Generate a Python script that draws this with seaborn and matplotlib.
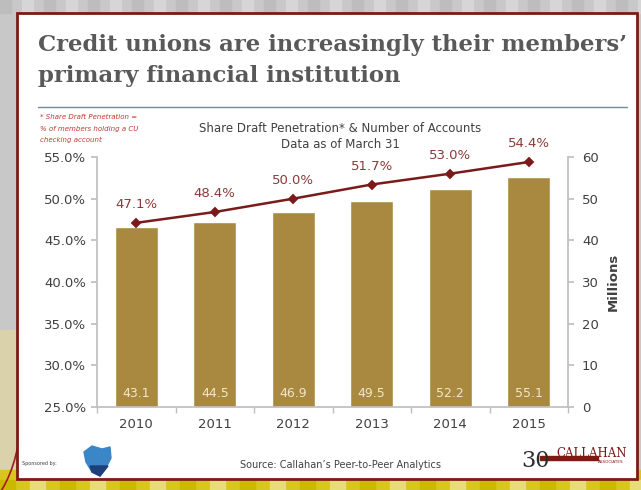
import matplotlib
matplotlib.use("Agg")
import matplotlib.pyplot as plt
from matplotlib.patches import Rectangle, Polygon, Arc
from matplotlib.lines import Line2D
import seaborn as sns
import pandas as pd
import numpy as np

# ---- data ----
years = ["2010", "2011", "2012", "2013", "2014", "2015"]
accounts_millions = [43.1, 44.5, 46.9, 49.5, 52.2, 55.1]
penetration_pct = [47.1, 48.4, 50.0, 51.7, 53.0, 54.4]
pct_ticks = [25.0, 30.0, 35.0, 40.0, 45.0, 50.0, 55.0]
million_ticks = [0, 10, 20, 30, 40, 50, 60]

df = pd.DataFrame({"year": years, "accounts": accounts_millions, "pct": penetration_pct})

W, H = 641, 490
sns.set_theme(style="white")
plt.rcParams["font.family"] = ["DejaVu Sans"]

fig = plt.figure(figsize=(W / 100, H / 100), dpi=100)
fig.patch.set_facecolor("#c9c9c9")


def fx(px):
    return px / W


def fy(py):
    return 1 - py / H


# ---- slide backdrop ----
bg = fig.add_axes([0, 0, 1, 1], zorder=-10)
bg.set_xlim(0, W)
bg.set_ylim(H, 0)
bg.axis("off")
bg.add_patch(Rectangle((0, 0), W, H, color="#c8c8c8"))
for i, x0 in enumerate(range(0, W, 22)):
    bg.add_patch(Rectangle((x0, 0), 11, 13, color="#d6d6d6" if i % 2 else "#bdbdbd"))
bg.add_patch(Rectangle((0, 330), 17, 160, color="#d9d2ab"))
bg.add_patch(Rectangle((0, 470), W, 20, color="#d9c520"))
for i, x0 in enumerate(range(0, W, 30)):
    bg.add_patch(Rectangle((x0, 480), 15, 10, color="#e8dc78" if i % 2 else "#cdb800"))
bg.add_patch(Arc((-60, 420), 160, 220, theta1=-10, theta2=80, color="#a11c1c", lw=1.2))
bg.add_patch(Rectangle((17, 13), 620, 466, facecolor="white", edgecolor="#7a1c12", lw=2))
bg.add_line(Line2D([38, 627], [107, 107], color="#6f8c98", lw=1))

# ---- titles and notes ----
fig.text(fx(38), fy(45), "Credit unions are increasingly their members\u2019",
         fontsize=16.4, fontweight="bold", family="DejaVu Serif", color="#595959", va="center")
fig.text(fx(38), fy(76), "primary financial institution",
         fontsize=16.4, fontweight="bold", family="DejaVu Serif", color="#595959", va="center")
fig.text(fx(40), fy(117), "* Share Draft Penetration =", fontsize=5, style="italic", color="#c0392b", va="center")
fig.text(fx(40), fy(129), "% of members holding a CU", fontsize=5, style="italic", color="#c0392b", va="center")
fig.text(fx(40), fy(140), "checking account", fontsize=5, style="italic", color="#c0392b", va="center")
fig.text(fx(340), fy(128), "Share Draft Penetration* & Number of Accounts",
         fontsize=8.5, color="#404040", ha="center", va="center")
fig.text(fx(340), fy(145), "Data as of March 31", fontsize=8.5, color="#404040", ha="center", va="center")

# ---- main chart ----
left, right, top, bottom = 97, 568, 157, 407
ax = fig.add_axes([fx(left), fy(bottom), fx(right - left), (bottom - top) / H])
ax.set_facecolor("none")

sns.barplot(data=df, x="year", y="accounts", color="#a8893f", saturation=1,
            width=0.55, ax=ax, zorder=2)
ax.set_xlabel("")

for i, v in enumerate(accounts_millions):
    ax.annotate(f"{v:.1f}", (i, 0), xytext=(0, 10), textcoords="offset points",
                ha="center", va="center", fontsize=9, color="#f3e6c8", zorder=3)

ax2 = ax.twinx()
sns.pointplot(data=df, x="year", y="pct", color="#7b1a1a", markers="D",
              linewidth=1.8, markersize=4, ax=ax2)
ax2.set_ylim(25, 55)
ax2.set_yticks(pct_ticks)
ax2.set_yticklabels([f"{t:.1f}%" for t in pct_ticks])
ax2.set_ylabel("")
ax2.set_xlabel("")
for i, v in enumerate(penetration_pct):
    ax2.annotate(f"{v:.1f}%", (i, v), xytext=(0, 13), textcoords="offset points",
                 ha="center", va="center", fontsize=9.5, color="#8b3a3a")

# bars' scale (millions) on the right, percentage scale on the left
ax.set_ylim(0, 60)
ax.set_yticks(million_ticks)
ax.yaxis.tick_right()
ax.yaxis.set_label_position("right")
ax.set_ylabel("Millions", fontsize=9.5, fontweight="bold", color="#404040", labelpad=6)
ax2.yaxis.tick_left()
ax2.yaxis.set_label_position("left")

for a in (ax, ax2):
    a.set_xlim(-0.5, len(years) - 0.5)
    for s in a.spines.values():
        s.set_visible(False)

spine_c = "#bfbfbf"
ax2.spines["left"].set_visible(True)
ax2.spines["left"].set_color(spine_c)
ax2.spines["right"].set_visible(True)
ax2.spines["right"].set_color(spine_c)
ax.spines["bottom"].set_visible(True)
ax.spines["bottom"].set_color(spine_c)

ax.set_xticks(range(len(years)))
ax.set_xticklabels(years)
ax.set_xticks(np.arange(-0.5, len(years), 1.0), minor=True)
ax.tick_params(axis="x", which="major", length=0, labelsize=9.5, labelcolor="#404040", pad=8)
ax.tick_params(axis="x", which="minor", length=4, color=spine_c, direction="out", bottom=True)
ax.tick_params(axis="y", which="major", length=4, color=spine_c, direction="out",
               labelsize=9.5, labelcolor="#404040", right=True, left=False,
               labelright=True, labelleft=False, pad=6)
ax2.tick_params(axis="y", which="major", length=4, color=spine_c, direction="out",
                labelsize=9.5, labelcolor="#404040", left=True, right=False,
                labelleft=True, labelright=False, pad=4)
ax2.tick_params(axis="x", bottom=False, labelbottom=False)

# ---- footer ----
fig.text(fx(340), fy(465), "Source: Callahan\u2019s Peer-to-Peer Analytics",
         fontsize=7, color="#404040", ha="center", va="center")
fig.text(fx(22), fy(463), "Sponsored by:", fontsize=3.5, color="#404040", va="center")
bg.add_patch(Polygon([[84, 452], [92, 446], [102, 449], [110, 447], [111, 458],
                      [106, 468], [100, 476], [92, 472], [86, 462]],
                     closed=True, color="#3b86c6"))
bg.add_patch(Polygon([[90, 466], [108, 466], [100, 476], [92, 472]], closed=True, color="#1f3f7a"))
fig.text(fx(521), fy(461), "30", fontsize=16, family="DejaVu Serif", color="#2b2b2b", va="center")
bg.add_patch(Rectangle((540, 456), 58, 4, color="#7a1c12"))
fig.text(fx(556), fy(453), "CALLAHAN", fontsize=8.5, family="DejaVu Serif", color="#7a1c12", va="center")
fig.text(fx(598), fy(462), "ASSOCIATES", fontsize=3, color="#7a1c12", va="center")

fig.savefig("out.png", dpi=100, facecolor=fig.get_facecolor())
